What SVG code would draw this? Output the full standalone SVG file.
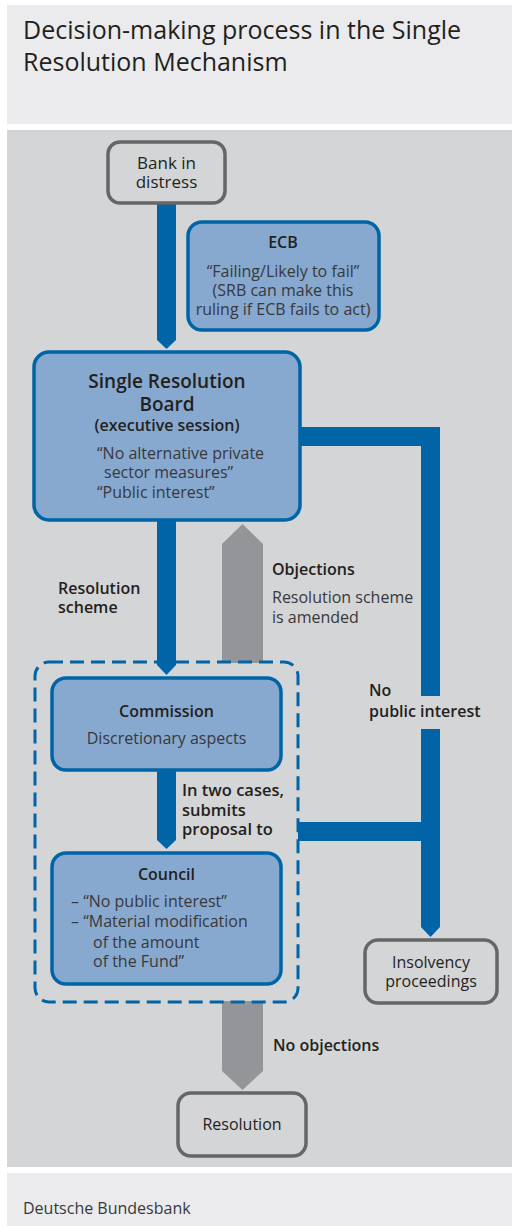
<svg xmlns="http://www.w3.org/2000/svg" width="512" height="1226" viewBox="0 0 512 1226">
<style>
text{font-family:"Open Sans","Noto Sans","Liberation Sans",sans-serif;fill:#231f20}
.t{font-size:25px}
.b{font-weight:600}
.m{text-anchor:middle}
.s16{font-size:16px}
.s17{font-size:17px}
.gbox{fill:#d4d5d7;stroke:#666;stroke-width:3.5}
.bbox{fill:#87a9d0;stroke:#0064a6;stroke-width:3.5}
.blue{fill:#0064a6}
.grey{fill:#939598}
.lt{fill:#38383a}
</style>
<rect x="7" y="5" width="505" height="119" fill="#ebebed"/>
<rect x="7" y="130" width="505" height="1037" fill="#d4d5d7"/>
<rect x="7" y="1173" width="505" height="53" fill="#ebebed"/>
<text class="t" x="23" y="39">Decision-making process in the Single<tspan x="23" dy="32">Resolution Mechanism</tspan></text>
<text class="s16 lt" x="23" y="1214">Deutsche Bundesbank</text>

<g id="connectors">
<polygon class="blue" points="157,203 176,203 176,340 166.5,349 157,340"/>
<polygon class="blue" points="157,521 176,521 176,665 166.5,675 157,665"/>
<polygon class="blue" points="157,770 176,770 176,840 166.5,849 157,840"/>
<polygon class="blue" points="300,427 440,427 440,696 421,696 421,446 300,446"/>
<polygon class="blue" points="421,729 440,729 440,927 430.5,937 421,927 421,841 298,841 298,822 421,822"/>
<polygon class="grey" points="222,663 222,544 242.5,524 263,544 263,663"/>
<polygon class="grey" points="222,1001 263,1001 263,1071 242.5,1090 222,1071"/>
<rect x="35" y="662" width="263" height="340" rx="14" fill="none" stroke="#0064a6" stroke-width="3" stroke-dasharray="14,7"/>
<text class="s16 b" x="58" y="594">Resolution<tspan x="58" dy="19">scheme</tspan></text>
<text class="s16 b" x="272" y="575">Objections</text>
<text class="s16 lt" x="272" y="603">Resolution scheme<tspan x="272" dy="20">is amended</tspan></text>
<text class="s16 b" x="369" y="696">No<tspan x="369" dy="21">public interest</tspan></text>
<text class="b" style="font-size:16.5px" x="182" y="796">In two cases,<tspan x="182" dy="20">submits</tspan><tspan x="182" dy="19">proposal to</tspan></text>
<text class="s16 b" x="273" y="1051">No objections</text>
</g>

<g id="bank">
<rect class="gbox" x="108" y="142" width="117" height="61" rx="12"/>
<text class="s17 m" x="166.5" y="169">Bank in<tspan x="166.5" dy="19">distress</tspan></text>
</g>

<g id="ecb">
<rect class="bbox" x="188" y="222" width="191" height="108" rx="14"/>
<text class="s16 b m" x="283" y="248">ECB</text>
<text class="s16 m lt" x="283" y="277">“Failing/Likely to fail”<tspan x="283" dy="19">(SRB can make this</tspan><tspan x="283" dy="19">ruling if ECB fails to act)</tspan></text>
</g>

<g id="srb">
<rect class="bbox" x="34" y="352" width="266" height="168" rx="15"/>
<text class="b m" style="font-size:19px" x="167" y="388">Single Resolution<tspan x="167" dy="23">Board</tspan><tspan x="167" dy="20" style="font-size:16px">(executive session)</tspan></text>
<text class="s16 lt" x="97" y="459">“No alternative private<tspan x="104" dy="19">sector measures”</tspan><tspan x="97" dy="20">“Public interest”</tspan></text>
</g>

<g id="commission">
<rect class="bbox" x="52" y="678" width="229" height="92" rx="14"/>
<text class="s16 b m" x="166.5" y="717">Commission</text>
<text class="s16 m lt" x="166.5" y="744">Discretionary aspects</text>
</g>

<g id="council">
<rect class="bbox" x="52" y="853" width="229" height="131" rx="14"/>
<text class="s16 b m" x="166.5" y="880">Council</text>
<text class="s16 lt" x="71" y="907">– “No public interest”<tspan x="71" dy="20">– “Material modification</tspan><tspan x="93" dy="21">of the amount</tspan><tspan x="93" dy="19">of the Fund”</tspan></text>
</g>

<g id="insolvency">
<rect class="gbox" x="365" y="940" width="132" height="63" rx="13"/>
<text class="s16 m" x="431" y="968">Insolvency<tspan x="431" dy="19">proceedings</tspan></text>
</g>

<g id="resolution">
<rect class="gbox" x="178" y="1093" width="128" height="63" rx="13"/>
<text class="s16 m" x="242" y="1130">Resolution</text>
</g>
</svg>
